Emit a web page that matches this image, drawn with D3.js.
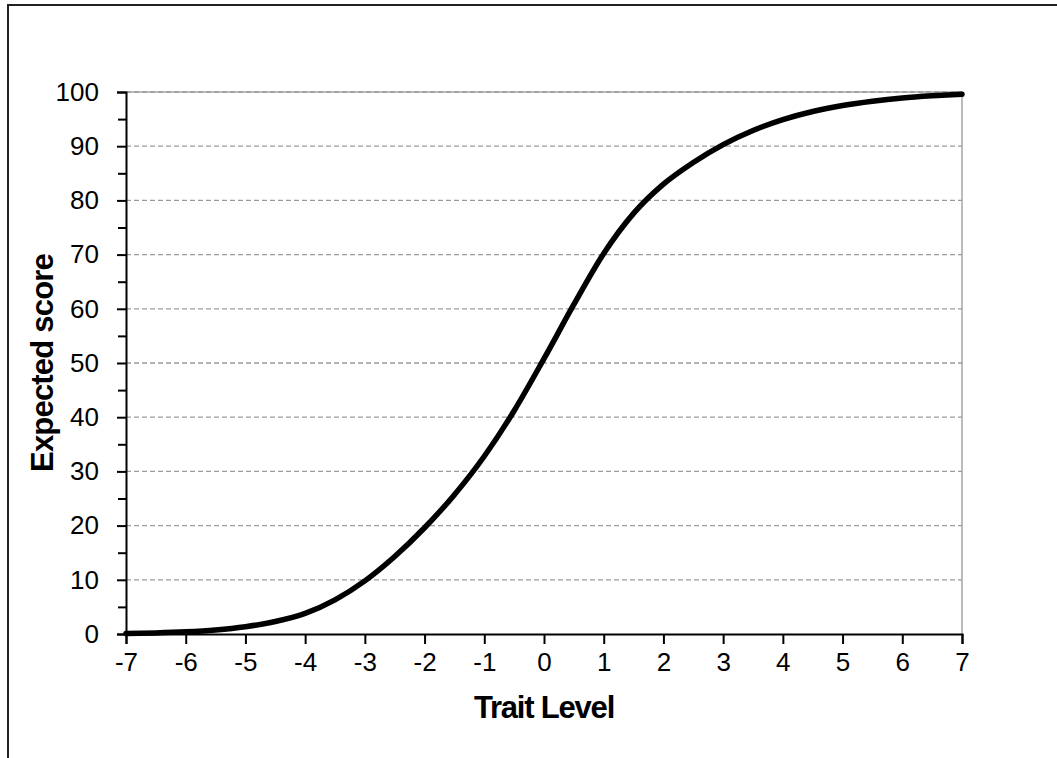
<!DOCTYPE html>
<html><head><meta charset="utf-8">
<script src="https://cdn.jsdelivr.net/npm/d3@7"></script>
<style>
html,body{margin:0;padding:0;background:#fff;}
svg{display:block;font-family:"Liberation Sans",Arial,sans-serif;}
</style></head>
<body>
<svg id="chart" width="1057" height="758"></svg>
<script>
const traitLevels = [-7,-6.5,-6,-5.5,-5,-4.5,-4,-3.5,-3,-2.5,-2,-1.5,-1,-0.5,0,0.5,1,1.5,2,2.5,3,3.5,4,4.5,5,5.5,6,6.5,7];
const expectedScores = [0.1,0.2,0.4,0.75,1.35,2.3,3.8,6.3,9.8,14.3,19.6,25.7,32.8,41.2,50.8,60.8,70.2,77.6,83.0,87.0,90.3,92.9,94.9,96.4,97.5,98.3,98.9,99.3,99.6];
const xTicks = [-7,-6,-5,-4,-3,-2,-1,0,1,2,3,4,5,6,7];
const yTicks = [0,10,20,30,40,50,60,70,80,90,100];
const yMinorTicks = [5,15,25,35,45,55,65,75,85,95];
const xTitle = "Trait Level";
const yTitle = "Expected score";

const svg = d3.select("#chart");
const L = 126, R = 962, T = 92, B = 634;
const x = d3.scaleLinear().domain([-7,7]).range([L,R]);
const y = d3.scaleLinear().domain([0,100]).range([B,T]);
const fmt = d => String(d);

// outer border
svg.append("path").attr("d","M8,758V5H1057").attr("fill","none").attr("stroke","#222").attr("stroke-width",2);

// plot area border (right/top)
svg.append("path").attr("d",`M${L},${T}H${R}V${B}`).attr("fill","none").attr("stroke","#a6a6a6").attr("stroke-width",1.5);

// gridlines
svg.append("g").selectAll("line").data(yTicks.filter(d=>d>0)).join("line")
  .attr("x1",L).attr("x2",R).attr("y1",d=>y(d)).attr("y2",d=>y(d))
  .attr("stroke","#9a9a9a").attr("stroke-width",1.3).attr("stroke-dasharray","5,3");

// y axis
svg.append("g").attr("transform",`translate(${L},0)`)
  .call(d3.axisLeft(y).tickValues(yTicks).tickSize(9).tickPadding(18).tickFormat(fmt));
svg.append("g").attr("transform",`translate(${L},0)`)
  .call(d3.axisLeft(y).tickValues(yMinorTicks).tickSize(8).tickFormat(""))
  .call(g=>g.select(".domain").remove());

// x axis
svg.append("g").attr("transform",`translate(0,${B})`)
  .call(d3.axisBottom(x).tickValues(xTicks).tickSize(10).tickPadding(9).tickFormat(fmt));

svg.selectAll(".domain").attr("stroke","#000").attr("stroke-width",2);
svg.selectAll(".tick line").attr("stroke","#000").attr("stroke-width",2);
svg.selectAll(".tick text").attr("fill","#000").style("font-size","26px").style("font-family","'Liberation Sans',Arial,sans-serif");

// curve
const data = traitLevels.map((t,i)=>({t, v: expectedScores[i]}));
svg.append("path").datum(data)
  .attr("fill","none").attr("stroke","#000").attr("stroke-width",5.5).attr("stroke-linecap","round")
  .attr("d", d3.line().x(d=>x(d.t)).y(d=>y(d.v)).curve(d3.curveMonotoneX));

// titles
svg.append("text").attr("x",(L+R)/2).attr("y",718).attr("text-anchor","middle")
  .style("font-size","31px").style("font-weight","bold").style("letter-spacing","-1.2px").text(xTitle);
svg.append("text").attr("transform",`translate(53,${(T+B)/2}) rotate(-90)`).attr("text-anchor","middle")
  .style("font-size","31px").style("font-weight","bold").style("letter-spacing","-0.8px").text(yTitle);
</script>
</body></html>
